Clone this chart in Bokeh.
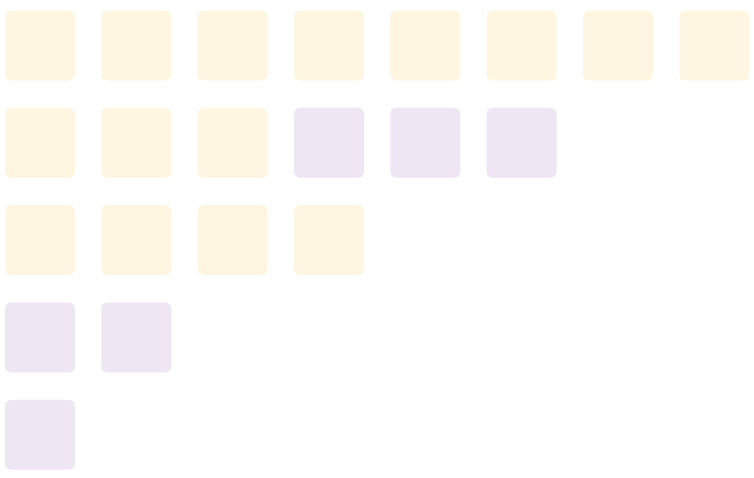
from bokeh.plotting import figure
from bokeh.models import Range1d, ColumnDataSource
from bokeh.embed import file_html
from bokeh.resources import INLINE

# Data: number of tiles per row, by group
rows = ["Row 1", "Row 2", "Row 3", "Row 4", "Row 5"]
yellow_counts = [8, 3, 4, 0, 0]
purple_counts = [0, 3, 0, 2, 1]

YELLOW = "#FFF6E2"
PURPLE = "#EFE6F3"

xs, ys, colors = [], [], []
for r, (yc, pc) in enumerate(zip(yellow_counts, purple_counts)):
    for c in range(yc):
        xs.append(c); ys.append(r); colors.append(YELLOW)
    for c in range(pc):
        xs.append(yc + c); ys.append(r); colors.append(PURPLE)

src = ColumnDataSource(dict(x=xs, y=ys, color=colors))

W, H = 754, 478
xpitch = 96.33
ypitch = 97.3
x0 = -39.5 / xpitch
y0 = -45.0 / ypitch
p = figure(width=W, height=H, output_backend="svg", toolbar_location=None,
           x_range=Range1d(x0, x0 + W / xpitch),
           y_range=Range1d(y0 + H / ypitch, y0),
           min_border=0, outline_line_color=None)
p.axis.visible = False
p.grid.visible = False
p.background_fill_color = "white"
p.border_fill_color = "white"

p.rect(x="x", y="y", width=70 / xpitch, height=70 / ypitch, source=src,
       fill_color="color", line_color=None, border_radius=6)

open("out.html", "w").write(file_html(p, INLINE))
